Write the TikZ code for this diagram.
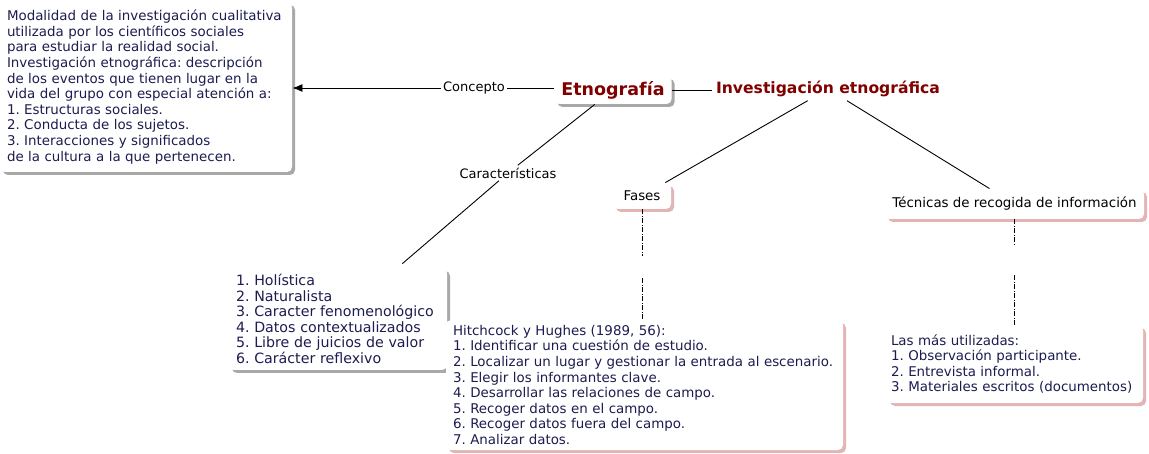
\documentclass[tikz,border=0pt]{standalone}
\usepackage{fontspec}
\setmainfont{DejaVu Sans}
\usetikzlibrary{arrows.meta,shadows}
\frenchspacing
\definecolor{maptext}{RGB}{28,28,80}
\definecolor{maptitle}{RGB}{128,0,0}
\definecolor{shadegray}{RGB}{168,168,168}
\definecolor{shadepink}{RGB}{226,180,180}
\tikzset{
  mapbox/.style={fill=white,rounded corners=5pt,inner xsep=7pt,inner ysep=0pt,align=left,text=maptext,font=\fontsize{13.4}{15.6}\selectfont},
  grayshade/.style={drop shadow={shadow xshift=3pt,shadow yshift=-3pt,fill=shadegray,opacity=1}},
  pinkshade/.style={drop shadow={shadow xshift=3pt,shadow yshift=-3pt,fill=shadepink,opacity=1}},
  linkword/.style={fill=white,inner sep=2pt,font=\fontsize{13}{15.6}\selectfont},
  maintitle/.style={text=maptitle,font=\bfseries\fontsize{17.5}{20}\selectfont},
  dashlink/.style={dash pattern=on 5pt off 1.5pt on 1pt off 1.5pt}
}
\begin{document}
\begin{tikzpicture}[x=1pt,y=-1pt,line width=0.9pt]
\useasboundingbox (0,0) rectangle (1149,454);

\node[mapbox,grayshade,text width=278pt,minimum height=170pt] (concbox) at (146,87) {Modalidad de la investigación cualitativa\\utilizada por los científicos sociales\\para estudiar la realidad social.\\Investigación etnográfica: descripción\\de los eventos que tienen lugar en la\\vida del grupo con especial atención a:\\1. Estructuras sociales.\\2. Conducta de los sujetos.\\3. Interacciones y significados\\de la cultura a la que pertenecen.};
\node[mapbox,grayshade,maintitle,minimum width=117pt,minimum height=28pt] (etno) at (613,90) {Etnografía};
\node[maintitle,font=\bfseries\fontsize{15.6}{18}\selectfont] (inv) at (828,89) {Investigación etnográfica};

\node[linkword] (concepto) at (474,88) {Concepto};
\node[linkword] (caract) at (508,173) {Características};

\node[mapbox,grayshade,font=\fontsize{14.2}{15.5}\selectfont,text width=204pt,minimum height=102pt] (carlist) at (338,319) {1. Holística\\2. Naturalista\\3. Caracter fenomenológico\\4. Datos contextualizados\\5. Libre de juicios de valor\\6. Carácter reflexivo};

\node[mapbox,pinkshade,text=black,align=center,minimum width=58pt,minimum height=26pt,inner xsep=0pt] (fases) at (642,196) {Fases};
\node[mapbox,pinkshade,text=black,align=center,minimum width=259pt,minimum height=30pt] (tecnicas) at (1014.5,204) {Técnicas de recogida de información};

\node[minimum height=22pt] (fgap) at (642,267) {};
\node[minimum height=30pt] (tgap) at (1014.5,260) {};

\node[mapbox,pinkshade,text width=383pt,minimum height=130pt] (hitch) at (644.5,385) {Hitchcock y Hughes (1989, 56):\\1. Identificar una cuestión de estudio.\\2. Localizar un lugar y gestionar la entrada al escenario.\\3. Elegir los informantes clave.\\4. Desarrollar las relaciones de campo.\\5. Recoger datos en el campo.\\6. Recoger datos fuera del campo.\\7. Analizar datos.};
\node[mapbox,pinkshade,inner xsep=4pt,text width=248pt,minimum height=78pt] (tecl) at (1015,364) {Las más utilizadas:\\1. Observación participante.\\2. Entrevista informal.\\3. Materiales escritos (documentos)};

\draw[-{Latex[length=10pt,width=8pt]}] (concepto.west) -- (concepto.west -| concbox.east);
\draw (concepto.east) -- (concepto.east -| etno.west);
\draw (etno.east) -- (etno.east -| inv.west);
\draw (etno) -- (caract);
\draw[shorten >=6pt] (caract) -- (carlist);
\draw (inv) -- (fases);
\draw (inv) -- (tecnicas);
\draw[dashlink] (fases) -- (fgap);
\draw[dashlink] (fgap) -- (fgap |- hitch.north);
\draw[dashlink] (tecnicas) -- (tgap);
\draw[dashlink] (tgap) -- (tgap |- tecl.north);
\end{tikzpicture}
\end{document}
